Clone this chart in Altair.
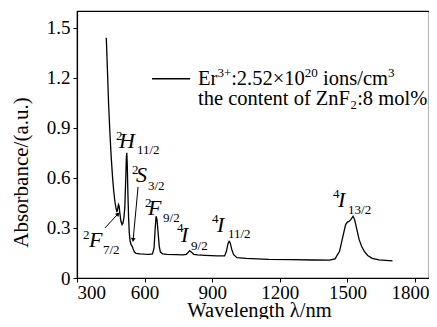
import altair as alt
import pandas as pd

# ---- spectrum ----
wavelength = [430, 435, 440, 446, 452, 458, 463, 468, 473, 477, 480, 484, 487, 490, 495,
              500, 504, 508, 512, 516, 519, 521, 523, 526, 529, 532, 536, 540, 545, 550,
              555, 562, 580, 600, 620, 635, 642, 647, 651, 655, 660, 665, 670, 680, 700,
              740, 770, 785, 795, 800, 808, 818, 835, 870, 920, 955, 963, 970, 975, 980,
              987, 995, 1010, 1050, 1150, 1250, 1350, 1420, 1445, 1465, 1480, 1492, 1500,
              1508, 1515, 1525, 1532, 1542, 1552, 1563, 1575, 1590, 1610, 1640, 1700]
absorbance = [1.44, 1.25, 1.05, 0.87, 0.72, 0.60, 0.52, 0.46, 0.42, 0.395, 0.41, 0.44, 0.43, 0.39, 0.34,
              0.32, 0.33, 0.36, 0.42, 0.58, 0.72, 0.75, 0.68, 0.50, 0.36, 0.27, 0.22, 0.20, 0.19, 0.17,
              0.155, 0.148, 0.145, 0.143, 0.142, 0.145, 0.18, 0.30, 0.37, 0.35, 0.27, 0.19, 0.155, 0.145, 0.142,
              0.14, 0.138, 0.142, 0.155, 0.164, 0.155, 0.142, 0.138, 0.135, 0.132, 0.132, 0.16, 0.205, 0.22, 0.21,
              0.17, 0.14, 0.122, 0.117, 0.112, 0.110, 0.108, 0.107, 0.115, 0.16, 0.25, 0.32, 0.335,
              0.34, 0.35, 0.37, 0.35, 0.29, 0.23, 0.19, 0.16, 0.135, 0.118, 0.108, 0.103]

x_tick_values = [300, 450, 600, 750, 900, 1050, 1200, 1350, 1500, 1650, 1800]
y_tick_values = [0, 0.15, 0.3, 0.45, 0.6, 0.75, 0.9, 1.05, 1.2, 1.35, 1.5]

# ---- term-symbol annotations (data coordinates) ----
term_sup = ["2", "2", "2", "2", "4", "4", "4"]
term_main = ["F", "H", "S", "F", "I", "I", "I"]
term_sub = ["7/2", "11/2", "3/2", "9/2", "9/2", "11/2", "13/2"]
sup_x = [327, 473, 544, 602, 744, 899, 1436]
sup_y = [0.258, 0.852, 0.648, 0.45, 0.30, 0.354, 0.504]
main_x = [353, 486, 562, 615, 762, 921, 1458]
main_y = [0.228, 0.822, 0.618, 0.42, 0.258, 0.318, 0.468]
sub_x = [415, 566, 615, 682, 806, 970, 1503]
sub_y = [0.168, 0.768, 0.552, 0.36, 0.192, 0.264, 0.408]

# arrows: tail -> head
arrow_x = [424, 571]
arrow_y = [0.30, 0.546]
arrow_x2 = [482, 549]
arrow_y2 = [0.384, 0.228]
arrow_angle = [43, 185]

# legend: first line built from pieces (normal + superscript), second line plain
leg1_text = ["Er", "3+", ":2.52×10", "20", "ions/cm", "3"]
leg1_x = [837, 923, 984, 1311, 1392, 1680]
leg1_sup = [False, True, False, True, False, True]
leg1_y = 1.194
leg2_text = "the content of ZnF₂:8 mol%"
leg2_x = 837
leg2_y = 1.074
legend_rule = {"x": 633, "x2": 802, "y": 1.194}

FONT = "Liberation Serif"

xscale = alt.Scale(domain=[300, 1862], nice=False, zero=False)
yscale = alt.Scale(domain=[0, 1.6], nice=False)

spec = pd.DataFrame({"w": wavelength, "a": absorbance})

line = alt.Chart(spec).mark_line(color="black", strokeWidth=1.3).encode(
    x=alt.X("w:Q", scale=xscale,
            axis=alt.Axis(values=x_tick_values,
                          labelExpr="datum.value % 300 == 0 ? format(datum.value, 'd') : ''",
                          labelOffset={"condition": {"test": "datum.value == 1800", "value": -5},
                                       "value": 0},
                          title="Wavelength λ/nm", titleX=182, titleY=32,
                          titleBaseline="middle", titleFontSize=20.5,
                          labelFontSize=19, labelPadding=1, tickSize=4,
                          labelFont=FONT, titleFont=FONT,
                          grid=False)),
    y=alt.Y("a:Q", scale=yscale,
            axis=alt.Axis(values=y_tick_values,
                          labelExpr="abs(datum.value/0.3 - round(datum.value/0.3)) < 0.01 ? (datum.value == 0 ? '0' : format(datum.value, '.1f')) : ''",
                          title="Absorbance/(a.u.)", titleX=-56, titleY=161,
                          titleAngle=-90, titleAlign="center", titleBaseline="middle",
                          titleFontSize=21, labelFontSize=19, labelPadding=3, tickSize=4,
                          labelFont=FONT, titleFont=FONT,
                          grid=False)),
)

terms = pd.DataFrame({"sup": term_sup, "main": term_main, "sub": term_sub,
                      "sx": sup_x, "sy": sup_y, "mx": main_x, "my": main_y,
                      "bx": sub_x, "by": sub_y})

sup_txt = alt.Chart(terms).mark_text(align="left", baseline="middle", fontSize=13,
                                     font=FONT, color="black").encode(
    x=alt.X("sx:Q", scale=xscale), y=alt.Y("sy:Q", scale=yscale), text="sup:N")
main_txt = alt.Chart(terms).mark_text(align="left", baseline="middle", fontSize=22,
                                      fontStyle="italic", font=FONT, color="black").encode(
    x=alt.X("mx:Q", scale=xscale), y=alt.Y("my:Q", scale=yscale), text="main:N")
sub_txt = alt.Chart(terms).mark_text(align="left", baseline="middle", fontSize=13,
                                     font=FONT, color="black").encode(
    x=alt.X("bx:Q", scale=xscale), y=alt.Y("by:Q", scale=yscale), text="sub:N")

arrows = pd.DataFrame({"x": arrow_x, "y": arrow_y, "x2": arrow_x2, "y2": arrow_y2,
                       "ang": arrow_angle})
arrow_lines = alt.Chart(arrows).mark_rule(color="black", strokeWidth=1).encode(
    x=alt.X("x:Q", scale=xscale), y=alt.Y("y:Q", scale=yscale),
    x2="x2:Q", y2="y2:Q")
arrow_heads = alt.Chart(arrows).mark_point(shape="triangle-up", filled=True, color="black",
                                           size=22, opacity=1).encode(
    x=alt.X("x2:Q", scale=xscale), y=alt.Y("y2:Q", scale=yscale),
    angle=alt.Angle("ang:Q", scale=None))

leg_rule = alt.Chart(pd.DataFrame([legend_rule])).mark_rule(color="black", strokeWidth=1.3).encode(
    x=alt.X("x:Q", scale=xscale), x2="x2:Q", y=alt.Y("y:Q", scale=yscale))

leg1 = pd.DataFrame({"t": leg1_text, "x": leg1_x, "sup": leg1_sup})
leg1 = leg1.assign(y=[leg1_y] * len(leg1_text))
leg1_normal = alt.Chart(leg1[~leg1["sup"]]).mark_text(
    align="left", baseline="middle", fontSize=20.5, font=FONT, color="black").encode(
    x=alt.X("x:Q", scale=xscale), y=alt.Y("y:Q", scale=yscale), text="t:N")
leg1_super = alt.Chart(leg1[leg1["sup"]]).mark_text(
    align="left", baseline="middle", fontSize=13, font=FONT, color="black", dy=-6).encode(
    x=alt.X("x:Q", scale=xscale), y=alt.Y("y:Q", scale=yscale), text="t:N")
leg2 = alt.Chart(pd.DataFrame({"t": [leg2_text], "x": [leg2_x], "y": [leg2_y]})).mark_text(
    align="left", baseline="middle", fontSize=20.5, font=FONT, color="black").encode(
    x=alt.X("x:Q", scale=xscale), y=alt.Y("y:Q", scale=yscale), text="t:N")

chart = alt.layer(line, arrow_lines, arrow_heads, sup_txt, main_txt, sub_txt,
                  leg_rule, leg1_normal, leg1_super, leg2).properties(
    width=352, height=267,
    autosize=alt.AutoSizeParams(type="none"),
    padding={"left": 69, "top": 3, "right": 0, "bottom": 41},
).configure(font=FONT).configure_view(stroke="black", strokeWidth=1.2).configure_axis(
    domainColor="black", tickColor="black", labelColor="black", titleColor="black",
    titleFontWeight="normal", domainWidth=1.2,
)

chart.save("out.html", embed_options={"renderer": "svg", "actions": False})
